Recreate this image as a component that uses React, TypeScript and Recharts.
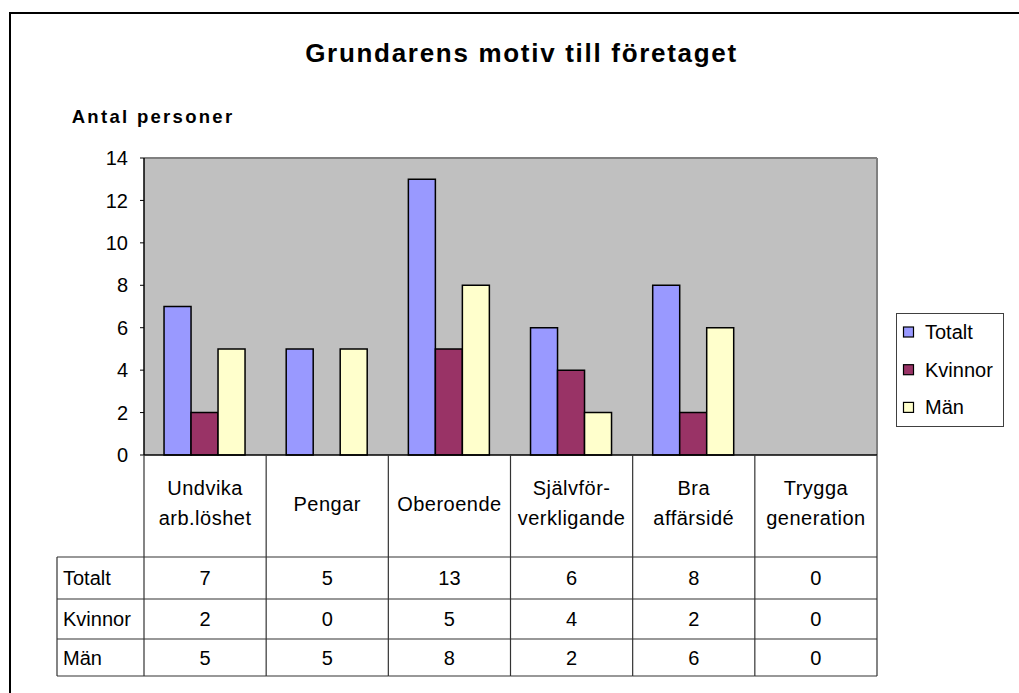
import React from 'react';
import { BarChart, Bar, XAxis, YAxis, CartesianGrid } from 'recharts';

const categories = ['Undvika\narb.löshet', 'Pengar', 'Oberoende', 'Självför-\nverkligande', 'Bra\naffärsidé', 'Trygga\ngeneration'];
const totalt = [7, 5, 13, 6, 8, 0];
const kvinnor = [2, 0, 5, 4, 2, 0];
const man = [5, 5, 8, 2, 6, 0];
const seriesNames = ['Totalt', 'Kvinnor', 'Män'];
const seriesColors = ['#9999FF', '#993366', '#FFFFCC'];
const yTicks = [0, 2, 4, 6, 8, 10, 12, 14];

const seriesValues = [totalt, kvinnor, man];
const data = categories.map((name, i) => ({
  name,
  Totalt: totalt[i],
  Kvinnor: kvinnor[i],
  Män: man[i],
}));

const W = 1019;
const H = 693;
const margin = { top: 158, right: 142, left: 84, bottom: 17 };
const Y_AXIS_W = 60;
const X_AXIS_H = 221;
const plotLeft = margin.left + Y_AXIS_W;
const band = (W - plotLeft - margin.right) / categories.length;
const rowLines = [102, 144, 184, 221];
const font = '"Liberation Sans", Arial, sans-serif';
const lineCol = '#333';

function TableTick(props: any) {
  const { x, y, payload, index } = props;
  const i = categories.indexOf(payload.value);
  const lines = String(payload.value).split('\n');
  const left = x - band / 2;
  const right = x + band / 2;
  return (
    <g fontFamily={font} fontSize={20}>
      <line x1={left} y1={y} x2={left} y2={y + rowLines[3]} stroke={lineCol} strokeWidth={1.2} />
      {index === categories.length - 1 && (
        <line x1={right} y1={y} x2={right} y2={y + rowLines[3]} stroke={lineCol} strokeWidth={1.2} />
      )}
      {rowLines.map((r) => (
        <line key={r} x1={left} y1={y + r} x2={right} y2={y + r} stroke={lineCol} strokeWidth={1.2} />
      ))}
      {lines.map((t, k) => (
        <text
          key={k}
          x={x}
          y={y + (lines.length === 1 ? 56 : 40 + k * 30)}
          textAnchor="middle"
          fill="#000"
          letterSpacing={0.5}
        >
          {t}
        </text>
      ))}
      {seriesValues.map((vals, r) => (
        <text key={r} x={x} y={y + (rowLines[r] + rowLines[r + 1]) / 2 + 7} textAnchor="middle" fill="#000">
          {vals[i]}
        </text>
      ))}
      {index === 0 && (
        <g>
          <line x1={57} y1={y + rowLines[0]} x2={57} y2={y + rowLines[3]} stroke={lineCol} strokeWidth={1.2} />
          {rowLines.map((r) => (
            <line key={r} x1={57} y1={y + r} x2={left} y2={y + r} stroke={lineCol} strokeWidth={1.2} />
          ))}
          {seriesNames.map((s, r) => (
            <text key={s} x={63} y={y + (rowLines[r] + rowLines[r + 1]) / 2 + 7} fill="#000">
              {s}
            </text>
          ))}
        </g>
      )}
    </g>
  );
}

export default function App() {
  return (
    <div style={{ position: 'absolute', left: 0, top: 0, width: W, height: H, overflow: 'hidden', background: '#fff' }}>
      <BarChart width={W} height={H} data={data} margin={margin} barCategoryGap="16.4%" barGap={0}>
        <CartesianGrid
          fill="#C0C0C0"
          stroke="#808080"
          strokeWidth={2}
          horizontalCoordinatesGenerator={(p: any) => [p.offset.top]}
          verticalCoordinatesGenerator={(p: any) => [p.offset.left + p.offset.width]}
        />
        <XAxis
          dataKey="name"
          height={X_AXIS_H}
          interval={0}
          tickSize={0}
          tickMargin={0}
          tickLine={false}
          axisLine={{ stroke: '#000', strokeWidth: 1.5 }}
          tick={<TableTick />}
        />
        <YAxis
          width={Y_AXIS_W}
          domain={[0, 14]}
          ticks={yTicks}
          interval={0}
          tickSize={4}
          tickMargin={12}
          axisLine={{ stroke: '#000', strokeWidth: 1.5 }}
          tickLine={{ stroke: '#000' }}
          tick={{ fill: '#000', fontSize: 20, fontFamily: font }}
        />
        {seriesNames.map((s, k) => (
          <Bar key={s} dataKey={s} fill={seriesColors[k]} stroke="#000" strokeWidth={1.5} isAnimationActive={false} />
        ))}
      </BarChart>
      <svg width={W} height={H} style={{ position: 'absolute', left: 0, top: 0, pointerEvents: 'none' }}>
        <rect x={10} y={13} width={W + 20} height={H + 20} fill="none" stroke="#000" strokeWidth={2} />
        <text x={521.5} y={61.7} textAnchor="middle" fontFamily={font} fontSize={26} fontWeight="bold" letterSpacing={1.7}>
          Grundarens motiv till företaget
        </text>
        <text x={71.7} y={123.3} fontFamily={font} fontSize={18.5} fontWeight="bold" letterSpacing={2.3}>
          Antal personer
        </text>
        <rect x={896.5} y={313.5} width={107} height={113} fill="#fff" stroke="#404040" strokeWidth={1} />
        {seriesNames.map((s, k) => (
          <g key={s}>
            <rect x={903.5} y={327 + k * 37.7} width={10} height={10} fill={seriesColors[k]} stroke="#000" strokeWidth={1.2} />
            <text x={925} y={339 + k * 37.7} fontFamily={font} fontSize={20} fill="#000">
              {s}
            </text>
          </g>
        ))}
      </svg>
    </div>
  );
}
